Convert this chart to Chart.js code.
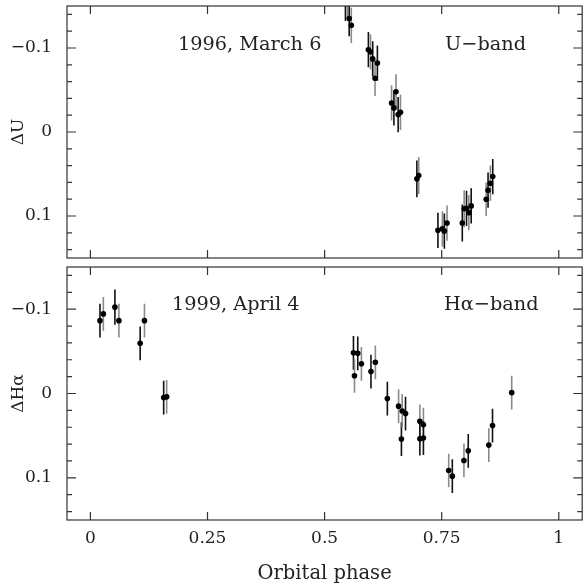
<!DOCTYPE html>
<html>
<head>
<meta charset="utf-8">
<script src="https://cdn.jsdelivr.net/npm/chart.js@4.4.0/dist/chart.umd.min.js"></script>
<style>
  html, body { margin: 0; padding: 0; background: #fff; }
  #wrap { position: relative; width: 585px; height: 586px; overflow: hidden; }
  canvas { position: absolute; left: 0; }
  #top { top: 0; }
  #bottom { top: 262px; }
</style>
</head>
<body>
<div id="wrap">
  <canvas id="top" width="585" height="262"></canvas>
  <canvas id="bottom" width="585" height="324"></canvas>
</div>
<script>
// U-band, 1996 March 6
const uPhase = [0.5445, 0.5485, 0.5525, 0.557, 0.5935, 0.598, 0.6027, 0.6077, 0.6127,
  0.643, 0.648, 0.6524, 0.657, 0.662, 0.697, 0.701, 0.742, 0.7515, 0.7557, 0.7614,
  0.794, 0.798, 0.803, 0.808, 0.813, 0.845, 0.849, 0.854, 0.859];
const uDelta = [-0.153, -0.158, -0.135, -0.127, -0.098, -0.0955, -0.087, -0.064, -0.082,
  -0.0346, -0.0287, -0.0478, -0.0207, -0.0234, 0.0558, 0.0518, 0.117, 0.1152, 0.118, 0.1084,
  0.1084, 0.0913, 0.0908, 0.096, 0.088, 0.080, 0.0693, 0.061, 0.053];
const uErr = [0.021, 0.021, 0.021, 0.021, 0.021, 0.021, 0.021, 0.021, 0.021,
  0.021, 0.021, 0.021, 0.021, 0.021, 0.022, 0.022, 0.021, 0.021, 0.021, 0.021,
  0.022, 0.022, 0.021, 0.021, 0.021, 0.020, 0.021, 0.021, 0.021];

// H-alpha band, 1999 April 4
const hPhase = [0.0204, 0.0276, 0.0523, 0.0608, 0.1062, 0.1154, 0.1564, 0.1628,
  0.5616, 0.5638, 0.5708, 0.5786, 0.599, 0.6084, 0.634, 0.658, 0.664, 0.6657, 0.6728,
  0.7034, 0.7034, 0.711, 0.711, 0.765, 0.7727, 0.7975, 0.8067, 0.8506, 0.8585, 0.8995];
const hDelta = [-0.0864, -0.0944, -0.1024, -0.0864, -0.0595, -0.0864, 0.0048, 0.004,
  -0.0483, -0.021, -0.0476, -0.0352, -0.026, -0.037, 0.006, 0.015, 0.054, 0.0207, 0.0238,
  0.033, 0.0536, 0.037, 0.0528, 0.0913, 0.098, 0.0794, 0.068, 0.0612, 0.038, -0.001];
const hErr = [0.020, 0.020, 0.021, 0.020, 0.020, 0.020, 0.020, 0.020,
  0.020, 0.020, 0.020, 0.020, 0.020, 0.020, 0.020, 0.020, 0.020, 0.020, 0.020,
  0.020, 0.020, 0.020, 0.020, 0.020, 0.020, 0.020, 0.020, 0.020, 0.020, 0.020];

const phaseTicks = [0, 0.25, 0.5, 0.75, 1];
const deltaTicks = [-0.1, 0, 0.1];
const deltaMinor = [-0.14, -0.12, -0.08, -0.06, -0.04, -0.02, 0.02, 0.04, 0.06, 0.08, 0.12, 0.14];

const FONT = "'DejaVu Serif', serif";
const INK = '#222';

function fmtDelta(v) {
  if (Math.abs(v) < 1e-9) return '0';
  return v < 0 ? '\u2212' + Math.abs(v) : String(v);
}

// error bars, drawn under the points
function errorBars(errs) {
  return {
    id: 'errorBars',
    beforeDatasetsDraw(chart) {
      const { ctx, chartArea: a, scales: { x, y } } = chart;
      const pts = chart.data.datasets[0].data;
      ctx.save();
      ctx.beginPath();
      ctx.rect(a.left, a.top, a.right - a.left, a.bottom - a.top);
      ctx.clip();
      ctx.lineWidth = 1.6;
      pts.forEach((p, i) => {
        const px = x.getPixelForValue(p.x);
        ctx.strokeStyle = i % 2 ? '#8a8a8a' : '#111';
        ctx.beginPath();
        ctx.moveTo(px, y.getPixelForValue(p.y - errs[i]));
        ctx.lineTo(px, y.getPixelForValue(p.y + errs[i]));
        ctx.stroke();
      });
      ctx.restore();
    }
  };
}

// box frame with inward ticks on all four sides
const frame = {
  id: 'frame',
  afterDraw(chart) {
    const { ctx, chartArea: a, scales: { x, y } } = chart;
    ctx.save();
    ctx.strokeStyle = '#333';
    ctx.lineWidth = 1.2;
    ctx.strokeRect(a.left, a.top, a.right - a.left, a.bottom - a.top);
    ctx.beginPath();
    phaseTicks.forEach(v => {
      const px = x.getPixelForValue(v);
      ctx.moveTo(px, a.bottom); ctx.lineTo(px, a.bottom - 8);
      ctx.moveTo(px, a.top); ctx.lineTo(px, a.top + 8);
    });
    deltaTicks.forEach(v => {
      const py = y.getPixelForValue(v);
      ctx.moveTo(a.left, py); ctx.lineTo(a.left + 9, py);
      ctx.moveTo(a.right, py); ctx.lineTo(a.right - 9, py);
    });
    deltaMinor.forEach(v => {
      const py = y.getPixelForValue(v);
      ctx.moveTo(a.left, py); ctx.lineTo(a.left + 5, py);
      ctx.moveTo(a.right, py); ctx.lineTo(a.right - 5, py);
    });
    ctx.stroke();
    ctx.restore();
  }
};

function labels(left, right, baseline) {
  return {
    id: 'panelLabels',
    afterDraw(chart) {
      const ctx = chart.ctx;
      ctx.save();
      ctx.fillStyle = INK;
      ctx.font = '19.3px ' + FONT;
      ctx.textBaseline = 'alphabetic';
      ctx.textAlign = 'left';
      ctx.fillText(left.text, left.x, baseline);
      ctx.fillText(right.text, right.x, baseline);
      ctx.restore();
    }
  };
}

function makeChart(id, phase, delta, errs, opts) {
  const points = phase.map((p, i) => ({ x: p, y: delta[i] }));
  return new Chart(document.getElementById(id), {
    type: 'scatter',
    data: {
      datasets: [{
        data: points,
        pointRadius: 2.8,
        pointHoverRadius: 2.8,
        pointBackgroundColor: '#000',
        pointBorderWidth: 0,
        clip: 0
      }]
    },
    options: {
      responsive: false,
      animation: false,
      events: [],
      layout: { padding: { top: opts.padTop, right: 1, left: 0, bottom: 0 } },
      plugins: { legend: { display: false }, tooltip: { enabled: false } },
      scales: {
        x: {
          type: 'linear',
          min: -0.05,
          max: 1.05,
          afterBuildTicks: s => { s.ticks = phaseTicks.map(v => ({ value: v })); },
          afterFit: s => { s.height = opts.xHeight; s.paddingLeft = 0; s.paddingRight = 0; },
          grid: { display: false, drawTicks: false },
          border: { display: false },
          ticks: {
            display: opts.xLabels,
            padding: 8.5,
            color: INK,
            font: { family: FONT, size: 17 },
            callback: v => String(v)
          },
          title: {
            display: opts.xLabels,
            text: 'Orbital phase',
            color: INK,
            font: { family: FONT, size: 19.5, lineHeight: 1 },
            padding: { top: 0, bottom: 2 }
          }
        },
        y: {
          type: 'linear',
          reverse: true,
          min: -0.15,
          max: 0.15,
          afterBuildTicks: s => { s.ticks = deltaTicks.map(v => ({ value: v })); },
          afterFit: s => { s.width = 67; s.paddingTop = 0; s.paddingBottom = 0; },
          grid: { display: false, drawTicks: false },
          border: { display: false },
          ticks: {
            padding: 15,
            color: INK,
            font: { family: FONT, size: 17 },
            callback: v => fmtDelta(v)
          },
          title: {
            display: true,
            text: opts.yTitle,
            color: INK,
            font: { family: FONT, size: 17 },
            padding: { top: 8, bottom: 0 }
          }
        }
      }
    },
    plugins: [errorBars(errs), frame, labels(opts.left, opts.right, opts.baseline)]
  });
}

makeChart('top', uPhase, uDelta, uErr, {
  padTop: 6, xHeight: 4, xLabels: false, yTitle: '\u0394U',
  left: { text: '1996, March 6', x: 178 },
  right: { text: 'U\u2212band', x: 445 },
  baseline: 49.5
});

makeChart('bottom', hPhase, hDelta, hErr, {
  padTop: 5, xHeight: 66, xLabels: true, yTitle: '\u0394H\u03b1',
  left: { text: '1999, April 4', x: 172 },
  right: { text: 'H\u03b1\u2212band', x: 444 },
  baseline: 48
});
</script>
</body>
</html>
